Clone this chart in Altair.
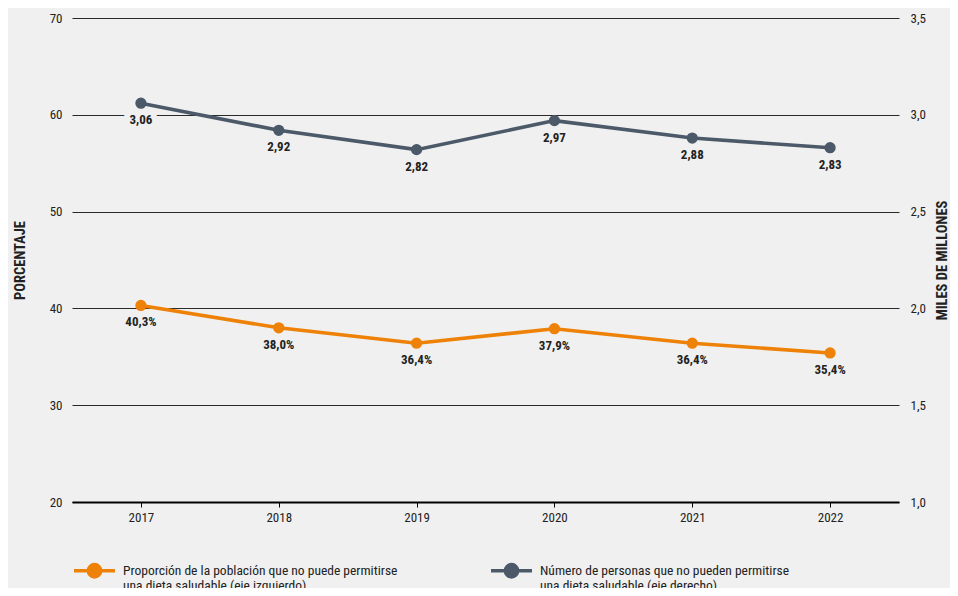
import altair as alt
import pandas as pd

# ---- data ----
years = ["2017", "2018", "2019", "2020", "2021", "2022"]
share_pct = [40.3, 38.0, 36.4, 37.9, 36.4, 35.4]          # left axis (%)
people_bn = [3.06, 2.92, 2.82, 2.97, 2.88, 2.83]          # right axis (billions)
series_names = [
    "Proporción de la población que no puede permitirse|una dieta saludable (eje izquierdo)",
    "Número de personas que no pueden permitirse|una dieta saludable (eje derecho)",
]
series_colors = ["#EE8208", "#4B5969"]
left_ticks = [20, 30, 40, 50, 60, 70]
right_ticks = [1.0, 1.5, 2.0, 2.5, 3.0, 3.5]

BG = "#f0f0f0"
FONT = "Roboto Condensed, Liberation Sans Narrow, DejaVu Sans Condensed, sans-serif"
TXT = "#222222"

df_pct = pd.DataFrame({"year": years, "value": share_pct, "series": series_names[0]})
df_num = pd.DataFrame({"year": years, "value": people_bn, "series": series_names[1]})

legend_path = ("M -1 0 L 1 0 M 0.3 0 A 0.3 0.3 0 1 1 -0.3 0 "
               "A 0.3 0.3 0 1 1 0.3 0 Z")

x_enc = alt.X(
    "year:O",
    sort=years,
    title=None,
    axis=alt.Axis(labelAngle=0, domain=True, domainColor="#000000", domainWidth=2.2,
                  ticks=True, tickColor="#000000", tickSize=5, tickWidth=1,
                  labelPadding=4, labelFontSize=13, labelColor=TXT, labelFont=FONT,
                  grid=False),
)

y_left = alt.Y(
    "value:Q",
    scale=alt.Scale(domain=[20, 70], nice=False, zero=False),
    axis=alt.Axis(values=left_ticks, title="PORCENTAJE", orient="left", grid=True,
                  gridColor="#2a2a2a", gridWidth=1, domain=False, ticks=False, tickSize=0,
                  labelPadding=10, labelFontSize=13, labelColor=TXT, labelFont=FONT,
                  titleFont=FONT, titleFontSize=14.5, titleFontWeight="bold", titleColor=TXT,
                  titlePadding=22, format="d"),
)

y_right = alt.Y(
    "value:Q",
    scale=alt.Scale(domain=[1.0, 3.5], nice=False, zero=False),
    axis=alt.Axis(values=right_ticks, title="MILES DE MILLONES", orient="right", grid=False,
                  domain=False, ticks=False, tickSize=0,
                  labelPadding=11, labelFontSize=13, labelColor=TXT, labelFont=FONT,
                  labelExpr="replace(format(datum.value, '.1f'), '.', ',')",
                  titleFont=FONT, titleFontSize=14.5, titleFontWeight="bold", titleColor=TXT,
                  titleAngle=270, titleBaseline="bottom", titlePadding=24),
)

series_scale = alt.Scale(domain=series_names, range=series_colors)


def make_legend():
    return alt.Legend(
        title=None, orient="none", legendX=0, legendY=500, direction="horizontal",
        columns=2, columnPadding=86, labelFont=FONT, labelFontSize=13.5,
        labelColor=TXT, labelOffset=6, labelLimit=400, labelBaseline="middle",
        labelExpr="split(datum.label, '|')",
    )


def line_legend():
    return alt.Legend(
        title=None, orient="none", legendX=0, legendY=530, direction="horizontal",
        columns=2, columnPadding=86, symbolType=legend_path, symbolSize=1681,
        symbolStrokeWidth=3.5, labelFont=FONT, labelFontSize=13.5,
        labelColor=TXT, labelOffset=6, labelLimit=400, labelBaseline="middle",
        labelExpr="split(datum.label, '|')",
    )


def series_layers(df, y_enc, label_expr):
    base = alt.Chart(df)
    halo = base.mark_text(fontSize=13, fontWeight="bold", font=FONT, dy=17,
                          baseline="middle", color=BG, stroke=BG, strokeWidth=12,
                          strokeJoin="round").transform_calculate(
        lbl=label_expr).encode(x=x_enc, y=y_enc, text="lbl:N")
    line = base.mark_line(strokeWidth=3.6).encode(
        x=x_enc, y=y_enc,
        color=alt.Color("series:N", scale=series_scale, sort=series_names, legend=line_legend()))
    pts = base.mark_point(size=95, opacity=1, filled=True, strokeWidth=1.5).encode(
        x=x_enc, y=y_enc,
        fill=alt.Fill("series:N", scale=series_scale, sort=series_names, legend=make_legend()),
        stroke=alt.Stroke("series:N", scale=series_scale, sort=series_names, legend=make_legend()),
    )
    txt = base.mark_text(fontSize=13, fontWeight="bold", font=FONT, dy=17,
                         baseline="middle", color=TXT).transform_calculate(
        lbl=label_expr).encode(x=x_enc, y=y_enc, text="lbl:N")
    return alt.layer(halo, line, pts, txt)


left = series_layers(df_pct, y_left, "replace(format(datum.value, '.1f'), '.', ',') + '%'")
right = series_layers(df_num, y_right, "replace(format(datum.value, '.2f'), '.', ',')")

chart = alt.layer(left, right).resolve_scale(y="independent").properties(
    width=827, height=484,
    autosize=alt.AutoSizeParams(type="none"),
    padding={"left": 64, "top": 10, "right": 51, "bottom": 86},
    background=BG,
).configure_view(stroke=None)

chart.save("out.html", embed_options={"renderer": "svg", "actions": False})
